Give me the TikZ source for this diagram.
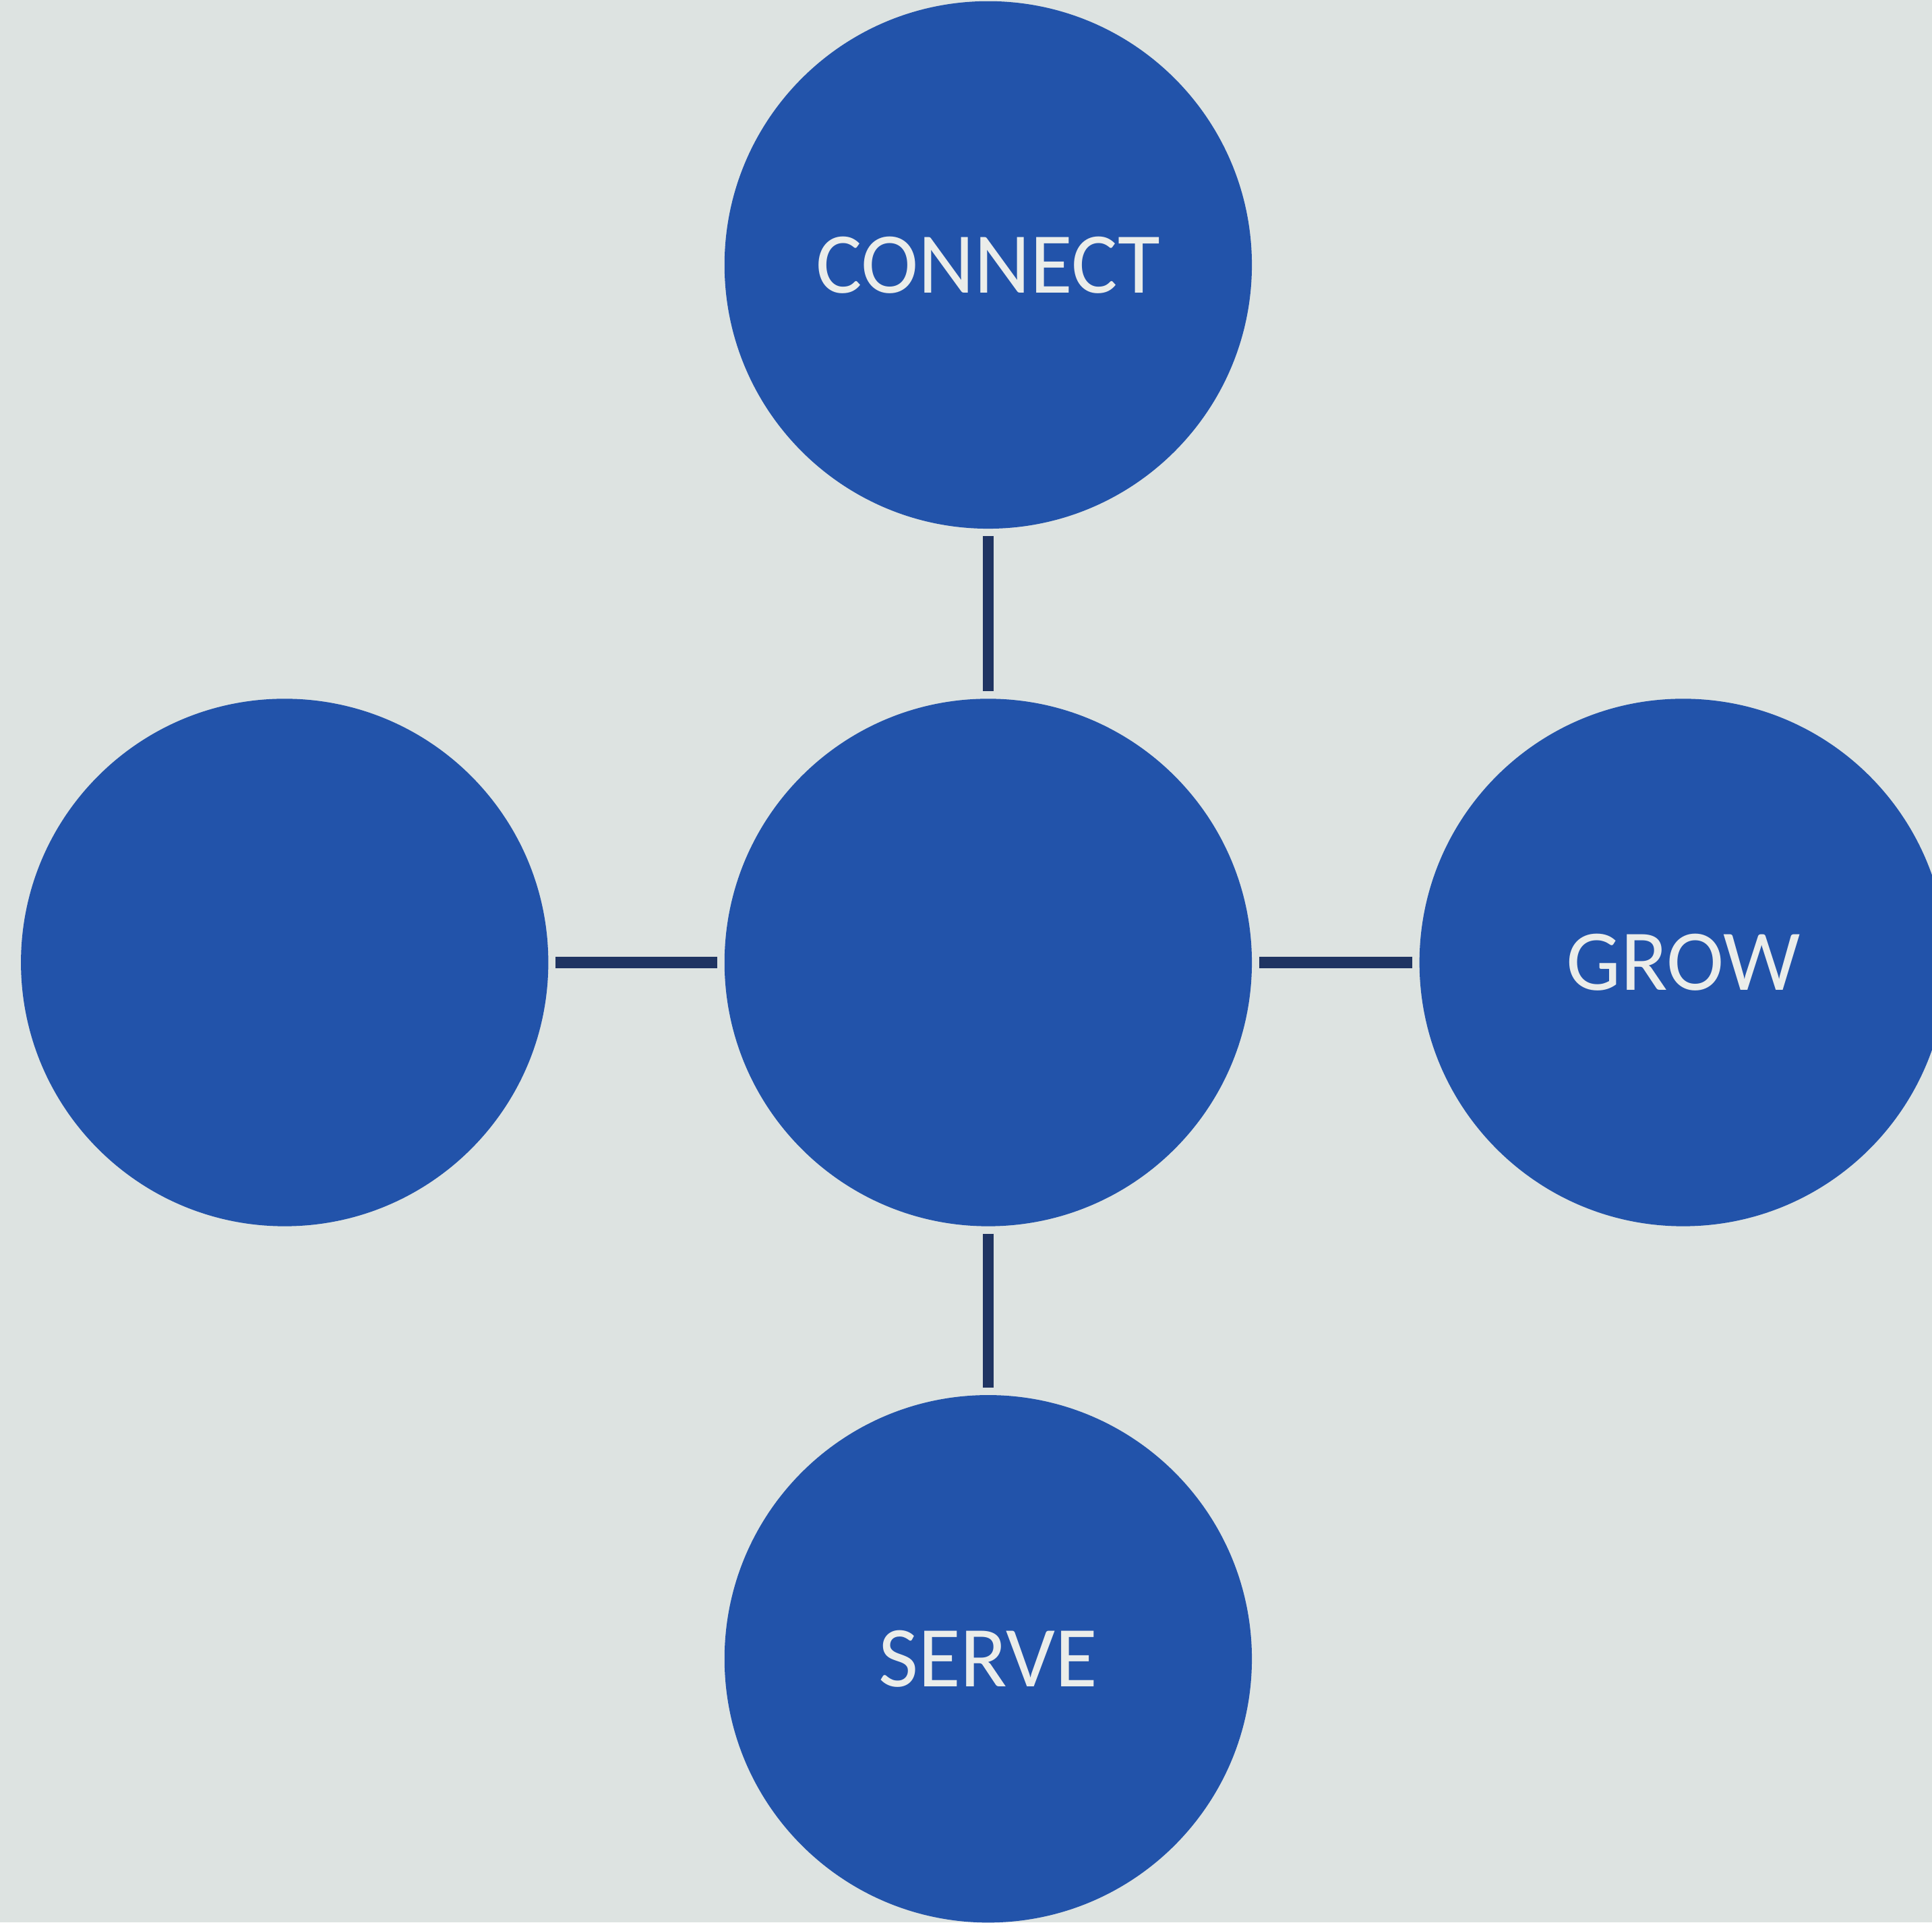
\documentclass[tikz,border=0pt]{standalone}
\usepackage{fontspec}
\setmainfont{Carlito}
\definecolor{paper}{HTML}{DDE3E1}
\definecolor{discblue}{HTML}{2253AA}
\definecolor{barnavy}{HTML}{1F3462}
\definecolor{capwhite}{HTML}{EBEDEA}
\tikzset{
  disc/.style={circle, fill=discblue, minimum size=4.28cm, inner sep=0pt,
    outer sep=0.06cm, text=capwhite, font=\fontsize{20}{24}\selectfont},
  bar/.style={draw=barnavy, line width=2.6pt}
}
\begin{document}
\begin{tikzpicture}
\fill[paper] (0,0) rectangle (15.68,15.60);
\useasboundingbox (0,0) rectangle (15.68,15.60);
% hub and the four discs round it
\node[disc] (hub) at (8.02,7.79) {};
\node[disc] (connect) at (8.02,13.45) {CONNECT};
\node[disc] (blank) at (2.31,7.79) {};
\node[disc] (grow) at (13.66,7.79) {GROW};
\node[disc] (serve) at (8.02,2.14) {SERVE};
% spokes
\draw[bar] (connect) -- (hub);
\draw[bar] (blank) -- (hub);
\draw[bar] (hub) -- (grow);
\draw[bar] (hub) -- (serve);
\end{tikzpicture}
\end{document}
